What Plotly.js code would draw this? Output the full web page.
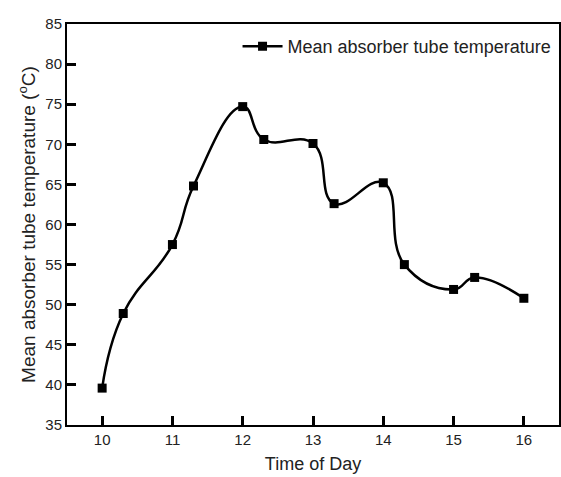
<!DOCTYPE html>
<html><head><meta charset="utf-8">
<script src="https://cdn.plot.ly/plotly-3.0.1.min.js"></script>
<style>html,body{margin:0;padding:0;background:#fff;}#chart{width:561px;height:477px;}</style>
</head><body><div id="chart"></div>
<script>
const timeOfDay = [10, 10.3, 11, 11.3, 12, 12.3, 13, 13.3, 14, 14.3, 15, 15.3, 16];
const meanTemp = [39.6, 48.9, 57.5, 64.8, 74.7, 70.6, 70.1, 62.6, 65.2, 55.0, 51.9, 53.4, 50.8];
const seriesName = "Mean absorber tube temperature";
const xTicks = [10, 11, 12, 13, 14, 15, 16];
const yTicks = [35, 40, 45, 50, 55, 60, 65, 70, 75, 80, 85];

const trace = {
  x: timeOfDay, y: meanTemp, name: seriesName,
  type: 'scatter', mode: 'lines+markers',
  line: {color: '#000', width: 2.5, shape: 'spline', smoothing: 1.3},
  marker: {symbol: 'square', size: 9, color: '#000'}
};
const font = {family: 'Liberation Sans, Arial, sans-serif', color: '#222'};
const xRange = [9.5, 16.5], yRange = [35, 85];
const layout = {
  width: 561, height: 477,
  margin: {l: 67, r: 2, t: 24, b: 52},
  paper_bgcolor: '#fff', plot_bgcolor: '#fff',
  font: Object.assign({size: 16}, font),
  showlegend: true,
  legend: {x: 0.995, y: 0.99, xanchor: 'right', yanchor: 'top', bgcolor: 'rgba(0,0,0,0)',
           font: Object.assign({size: 18}, font), itemwidth: 40},
  xaxis: {
    range: xRange, tickmode: 'linear', tick0: xTicks[0], dtick: xTicks[1] - xTicks[0],
    ticks: 'inside', ticklen: 9, tickwidth: 3, tickcolor: '#000',
    showline: true, linewidth: 2, linecolor: '#000', mirror: true,
    showgrid: false, zeroline: false,
    tickfont: Object.assign({size: 15}, font),
    title: {text: 'Time of Day', font: Object.assign({size: 18}, font), standoff: 10}
  },
  yaxis: {
    range: yRange, tickmode: 'linear', tick0: yTicks[0], dtick: yTicks[1] - yTicks[0],
    ticks: 'inside', ticklen: 9, tickwidth: 3, tickcolor: '#000',
    showline: true, linewidth: 2, linecolor: '#000', mirror: true,
    showgrid: false, zeroline: false,
    tickfont: Object.assign({size: 15}, font),
    title: {text: 'Mean absorber tube temperature (<sup>o</sup>C)', font: Object.assign({size: 19}, font), standoff: 5}
  }
};
Plotly.newPlot('chart', [trace], layout, {displayModeBar: false, staticPlot: true});
</script></body></html>
